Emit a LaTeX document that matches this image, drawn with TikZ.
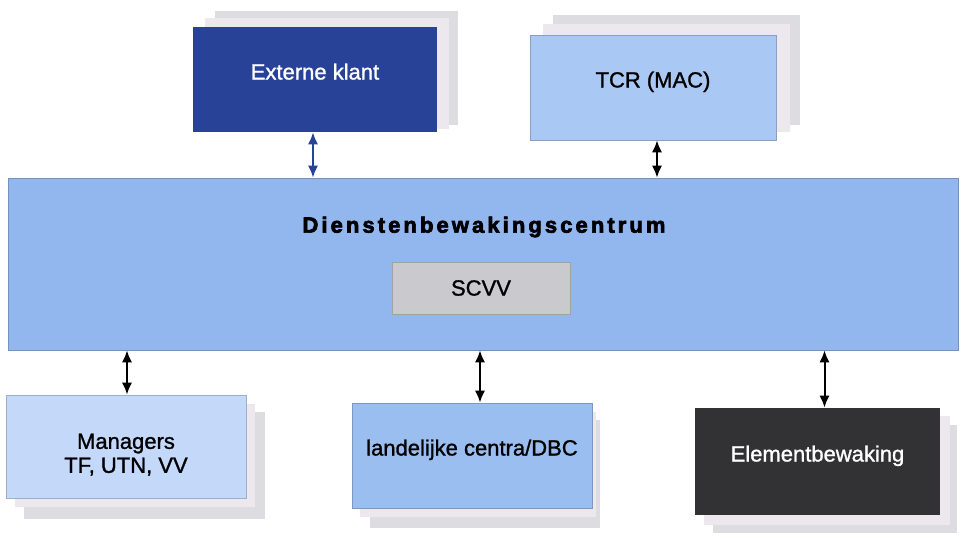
\documentclass[tikz,border=0pt]{standalone}
\usepackage{fontspec}
\setmainfont{Liberation Sans}
\newfontfamily\mediumfont[FakeBold=1.2]{Liberation Sans}
\newfontfamily\heavyfont[FakeBold=3,LetterSpace=14]{Liberation Sans Bold}
\usetikzlibrary{arrows.meta,calc}

\definecolor{navy}{RGB}{40,66,152}
\definecolor{dbcblue}{RGB}{146,182,238}
\definecolor{tcrblue}{RGB}{170,200,244}
\definecolor{mgrblue}{RGB}{196,217,249}
\definecolor{lcblue}{RGB}{155,190,240}
\definecolor{charcoal}{RGB}{50,50,52}
\definecolor{sheetA}{RGB}{236,232,238}
\definecolor{sheetB}{RGB}{220,220,225}
\definecolor{scvvgrey}{RGB}{202,202,206}

\tikzset{
  labelfont/.style={font=\mediumfont\fontsize{16.5}{18}\selectfont},
  unit/.style={rectangle, inner sep=0pt, labelfont, align=center},
  onbase/.style={text height=9pt, text depth=9pt},
  lightunit/.style={unit, fill=#1, draw=#1!80!black, line width=0.4pt},
  sheetback/.style={fill=sheetB},
  sheetfront/.style={fill=sheetA},
  link/.style={line width=1.5pt, {Latex[length=9pt,width=7.5pt]}-{Latex[length=9pt,width=7.5pt]}},
}

\begin{document}
\begin{tikzpicture}[x=0.75pt,y=-0.75pt]
\useasboundingbox (0,0) rectangle (968,536);

% paper sheets stacked behind the units
\path[sheetback]  (215,11) rectangle (458,125);
\path[sheetfront] (205,18) rectangle (449,129);
\path[sheetback]  (553,15) rectangle (800,125);
\path[sheetfront] (543,24) rectangle (790,132);
\path[sheetback]  (24,412) rectangle (265,519);
\path[sheetfront] (15,404) rectangle (255,507);
\path[sheetback]  (370,420) rectangle (600,528);
\path[sheetfront] (360,412) rectangle (596,517);
\path[sheetback]  (713,425) rectangle (957,533);
\path[sheetfront] (704,416) rectangle (950,525);

% units
\node[unit, onbase, fill=navy, text=white, minimum width=183pt, minimum height=78.75pt]
  (ext) at (315,79.5) {Externe klant};
\node[lightunit=tcrblue, onbase, minimum width=184.5pt, minimum height=78.75pt]
  (tcr) at (653,87.5) {TCR (MAC)};
\node[lightunit=dbcblue, minimum width=712.5pt, minimum height=129pt]
  (dbc) at (483,264) {};
\node[inner sep=0pt, font=\heavyfont\fontsize{16.5}{18}\selectfont] (title) at (484,227)
  {Dienstenbewakingscentrum};
\node[lightunit=scvvgrey, minimum width=133.5pt, minimum height=39pt]
  (scvv) at (481,288) {SCVV};
\node[lightunit=mgrblue, text height=42pt, text depth=2.5pt,
      minimum width=180pt, minimum height=77.25pt]
  (mgr) at (126,446.5) {Managers\\TF, UTN, VV};
\node[lightunit=lcblue, onbase, minimum width=180pt, minimum height=78.75pt]
  (lc) at (472,455.5) {landelijke centra/DBC};
\node[unit, onbase, fill=charcoal, text=white, minimum width=183.75pt, minimum height=80.25pt]
  (elem) at (817.5,461.5) {Elementbewaking};

% connectors
\coordinate (extA) at ($(ext.south)+(-2,0)$);
\draw[link, navy] (extA) -- (extA |- dbc.north);
\coordinate (tcrA) at ($(tcr.south)+(4,0)$);
\draw[link] (tcrA) -- (tcrA |- dbc.north);
\coordinate (mgrA) at ($(mgr.north)+(1,0)$);
\draw[link] (mgrA |- dbc.south) -- (mgrA);
\coordinate (lcA) at ($(lc.north)+(8,0)$);
\draw[link] (lcA |- dbc.south) -- (lcA);
\coordinate (elemA) at ($(elem.north)+(7,0)$);
\draw[link] (elemA |- dbc.south) -- (elemA);
\end{tikzpicture}
\end{document}
